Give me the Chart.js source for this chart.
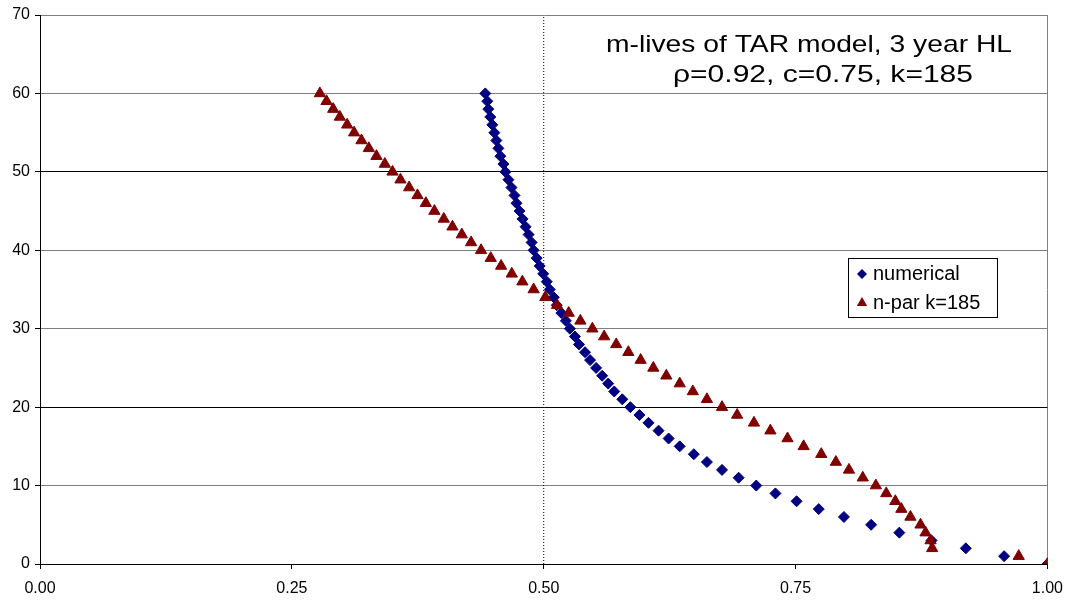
<!DOCTYPE html>
<html>
<head>
<meta charset="utf-8">
<title>m-lives of TAR model</title>
<script src="https://cdn.jsdelivr.net/npm/chart.js@4.4.1/dist/chart.umd.min.js"></script>
<style>
    html, body { margin: 0; padding: 0; background: #fff; }
    canvas { display: block; }
</style>
</head>
<body>
<canvas id="mlivesChart" width="1073" height="600"></canvas>
<script>
// m-life levels (y) and the fraction reached at each level (x)
const levels = [
    0, 1, 2, 3, 4, 5, 6, 7, 8, 9,
    10, 11, 12, 13, 14, 15, 16, 17, 18, 19,
    20, 21, 22, 23, 24, 25, 26, 27, 28, 29,
    30, 31, 32, 33, 34, 35, 36, 37, 38, 39,
    40, 41, 42, 43, 44, 45, 46, 47, 48, 49,
    50, 51, 52, 53, 54, 55, 56, 57, 58, 59,
    60
];

const numericalX = [
    1.000, 0.957, 0.919, 0.885, 0.853, 0.825, 0.798, 0.773, 0.751, 0.730,
    0.711, 0.6935, 0.677, 0.662, 0.649, 0.635, 0.624, 0.614, 0.604, 0.595,
    0.586, 0.578, 0.570, 0.564, 0.558, 0.552, 0.546, 0.541, 0.535, 0.531,
    0.526, 0.522, 0.5175, 0.513, 0.510, 0.506, 0.503, 0.4995, 0.496, 0.493,
    0.490, 0.488, 0.485, 0.482, 0.479, 0.476, 0.473, 0.471, 0.468, 0.465,
    0.462, 0.460, 0.457, 0.455, 0.453, 0.451, 0.449, 0.447, 0.445, 0.444,
    0.442
];

const nparX = [
    1.000, 0.9715, 0.8856, 0.884, 0.879, 0.874, 0.864, 0.855, 0.849, 0.840,
    0.8297, 0.8167, 0.803, 0.790, 0.7755, 0.758, 0.742, 0.725, 0.7087, 0.692,
    0.677, 0.662, 0.648, 0.635, 0.6217, 0.6088, 0.5962, 0.584, 0.572, 0.560,
    0.5483, 0.5364, 0.5248, 0.5132, 0.5016, 0.490, 0.4788, 0.4683, 0.4577, 0.4474,
    0.4378, 0.4279, 0.4187, 0.4094, 0.4008, 0.3915, 0.383, 0.3747, 0.3664, 0.3578,
    0.3499, 0.3423, 0.334, 0.3264, 0.3191, 0.3118, 0.3049, 0.2976, 0.291, 0.2844,
    0.2778
];

// dotted reference line at one half
const halfLineX = [0.5, 0.5];
const halfLineY = [0, 70];

const xTicks = [0, 0.25, 0.5, 0.75, 1];
const yTicks = [0, 10, 20, 30, 40, 50, 60, 70];

const titleLines = ['m-lives of TAR model, 3 year HL', 'ρ=0.92, c=0.75, k=185'];
const seriesLabels = ['numerical', 'n-par k=185'];

const FONT = '"Liberation Sans", Arial, sans-serif';
const NAVY = '#000080';
const MAROON = '#800000';

const toPoints = (xs, ys) => xs.map((x, i) => ({ x: x, y: ys[i] }));

// Two-line title sitting in the upper right of the plot
const cornerTitle = {
    id: 'cornerTitle',
    afterDraw(chart) {
        const ctx = chart.ctx;
        const spots = [
            { x: 809, y: 52, w: 406 },
            { x: 823, y: 82, w: 300 }
        ];
        ctx.save();
        ctx.fillStyle = '#000';
        ctx.font = '24px ' + FONT;
        ctx.textAlign = 'center';
        ctx.textBaseline = 'alphabetic';
        titleLines.forEach((line, i) => {
            const s = spots[i];
            const w = ctx.measureText(line).width;
            ctx.save();
            ctx.translate(s.x, s.y);
            ctx.scale(s.w / w, 1);
            ctx.fillText(line, 0, 0);
            ctx.restore();
        });
        ctx.restore();
    }
};

// Boxed legend inside the plot area
const boxLegend = {
    id: 'boxLegend',
    afterDraw(chart) {
        const ctx = chart.ctx;
        const box = { x: 848.5, y: 258.5, w: 149, h: 59 };
        ctx.save();
        ctx.fillStyle = '#fff';
        ctx.fillRect(box.x, box.y, box.w, box.h);
        ctx.strokeStyle = '#000';
        ctx.lineWidth = 1;
        ctx.strokeRect(box.x, box.y, box.w, box.h);

        ctx.font = '20px ' + FONT;
        ctx.textBaseline = 'alphabetic';
        ctx.textAlign = 'left';
        const rows = [
            { ds: chart.data.datasets[0], y: 274, r: 5 },
            { ds: chart.data.datasets[1], y: 303, r: 6 }
        ];
        rows.forEach(row => {
            ctx.fillStyle = row.ds.backgroundColor;
            ctx.strokeStyle = row.ds.backgroundColor;
            Chart.helpers.drawPoint(ctx, {
                pointStyle: row.ds.pointStyle,
                radius: row.r,
                rotation: 0,
                borderWidth: 0
            }, 862, row.y);
            ctx.fillStyle = '#000';
            ctx.fillText(row.ds.label, 873, row.y + 6);
        });
        ctx.restore();
    }
};

new Chart(document.getElementById('mlivesChart'), {
    type: 'scatter',
    data: {
        datasets: [
            {
                label: seriesLabels[0],
                data: toPoints(numericalX, levels),
                pointStyle: 'rectRot',
                backgroundColor: NAVY,
                borderColor: NAVY,
                borderWidth: 1,
                pointRadius: 5.5,
                order: 2
            },
            {
                label: seriesLabels[1],
                data: toPoints(nparX, levels),
                pointStyle: 'triangle',
                backgroundColor: MAROON,
                borderColor: MAROON,
                borderWidth: 1,
                pointRadius: 6.5,
                order: 1
            },
            {
                label: 'half',
                data: toPoints(halfLineX, halfLineY),
                showLine: true,
                pointRadius: 0,
                borderColor: '#000',
                borderWidth: 1,
                borderDash: [1, 2],
                order: 3
            }
        ]
    },
    options: {
        responsive: false,
        animation: false,
        layout: {
            padding: { top: 15, right: 25, left: 0, bottom: 0 }
        },
        plugins: {
            legend: { display: false },
            title: { display: false },
            tooltip: { enabled: false }
        },
        scales: {
            x: {
                type: 'linear',
                min: 0,
                max: 1,
                afterBuildTicks: (scale) => {
                    scale.ticks = xTicks.map(v => ({ value: v }));
                },
                afterFit: (scale) => { scale.height = 36; },
                grid: {
                    // only the right-hand edge is drawn across the plot
                    color: (c) => (c.tick && c.tick.value === 1) ? '#808080' : 'rgba(0,0,0,0)',
                    tickColor: '#000',
                    tickLength: 5,
                    lineWidth: 1
                },
                border: { color: '#000', width: 1 },
                ticks: {
                    padding: 10,
                    color: '#000',
                    font: { family: FONT, size: 16 },
                    callback: (v) => Number(v).toFixed(2)
                }
            },
            y: {
                type: 'linear',
                min: 0,
                max: 70,
                afterBuildTicks: (scale) => {
                    scale.ticks = yTicks.map(v => ({ value: v }));
                },
                afterFit: (scale) => { scale.width = 40; },
                grid: {
                    color: (c) => {
                        const v = c.tick ? c.tick.value : null;
                        return (v === 20 || v === 50) ? '#000' : '#808080';
                    },
                    tickColor: '#000',
                    tickLength: 5,
                    lineWidth: 1
                },
                border: { color: '#000', width: 1 },
                ticks: {
                    padding: 5,
                    color: '#000',
                    font: { family: FONT, size: 16 },
                    callback: (v) => String(v)
                }
            }
        }
    },
    plugins: [cornerTitle, boxLegend]
});
</script>
</body>
</html>
